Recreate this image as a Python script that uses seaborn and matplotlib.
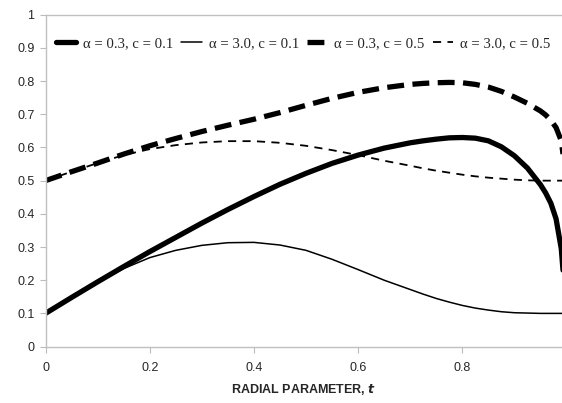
import numpy as np
import pandas as pd
import matplotlib
matplotlib.use("Agg")
import matplotlib.pyplot as plt
import seaborn as sns

sns.set_style("white")
plt.rcParams["font.family"] = ["Liberation Sans", "DejaVu Sans"]

# values
t = [0.0, 0.05, 0.1, 0.15, 0.2, 0.25, 0.3, 0.35, 0.4, 0.45, 0.5, 0.55, 0.6, 0.65,
     0.7, 0.725, 0.75, 0.775, 0.8, 0.825, 0.85, 0.875, 0.9, 0.925, 0.95, 0.96,
     0.97, 0.98, 0.99, 1.0]
a03_c01 = [0.100, 0.148, 0.195, 0.241, 0.286, 0.329, 0.372, 0.413, 0.452, 0.489, 0.522,
           0.552, 0.577, 0.598, 0.614, 0.620, 0.625, 0.629, 0.630, 0.628, 0.620, 0.602,
           0.575, 0.538, 0.488, 0.463, 0.432, 0.385, 0.295, 0.100]
a30_c01 = [0.100, 0.148, 0.193, 0.235, 0.268, 0.290, 0.305, 0.313, 0.314, 0.306, 0.290,
           0.263, 0.232, 0.200, 0.172, 0.158, 0.145, 0.134, 0.124, 0.116, 0.110, 0.105,
           0.102, 0.101, 0.100, 0.100, 0.100, 0.100, 0.100, 0.100]
a03_c05 = [0.500, 0.527, 0.553, 0.580, 0.605, 0.627, 0.648, 0.667, 0.685, 0.705, 0.727,
           0.748, 0.766, 0.780, 0.790, 0.793, 0.795, 0.796, 0.795, 0.790, 0.782, 0.769,
           0.752, 0.733, 0.710, 0.698, 0.682, 0.660, 0.620, 0.500]
a30_c05 = [0.500, 0.527, 0.553, 0.577, 0.595, 0.607, 0.615, 0.619, 0.619, 0.614, 0.605,
           0.592, 0.577, 0.560, 0.545, 0.537, 0.530, 0.524, 0.518, 0.513, 0.509, 0.506,
           0.503, 0.501, 0.500, 0.500, 0.500, 0.500, 0.500, 0.500]
labels = ["α = 0.3, c = 0.1", "α = 3.0, c = 0.1", "α = 0.3, c = 0.5", "α = 3.0, c = 0.5"]

df = pd.DataFrame({"t": t, labels[0]: a03_c01, labels[1]: a30_c01,
                   labels[2]: a03_c05, labels[3]: a30_c05})

fig = plt.figure(figsize=(5.62, 4.03), dpi=100)
ax = fig.add_axes([0.081, 0.14, 0.919, 0.8235])

styles = [
    dict(lw=3.8, ls="-"),
    dict(lw=1.1, ls="-"),
    dict(lw=3.8, ls=(0, (3.2, 1.6))),
    dict(lw=1.3, ls=(0, (4.5, 3.5))),
]
for lab, st in zip(labels, styles):
    sns.lineplot(data=df, x="t", y=lab, ax=ax, color="black", label=lab,
                 linewidth=st["lw"], linestyle=st["ls"])

ax.set_xlim(0, 0.9914)
ax.set_ylim(0, 1)
ax.set_xticks([0, 0.2, 0.4, 0.6, 0.8])
ax.set_xticklabels(["0", "0.2", "0.4", "0.6", "0.8"])
ax.set_yticks(np.arange(0, 1.01, 0.1))
ax.set_yticklabels(["0", "0.1", "0.2", "0.3", "0.4", "0.5", "0.6", "0.7", "0.8", "0.9", "1"])
ax.tick_params(axis="both", labelsize=9, length=4, color="#bbbbbb", direction="out",
               left=True, bottom=True, pad=4)
ax.tick_params(axis="x", pad=7)
ax.spines["right"].set_visible(False)
for s in ["left", "bottom", "top"]:
    ax.spines[s].set_color("#c0c0c0")
    ax.spines[s].set_linewidth(1.0)

ax.set_xlabel(r"RADIAL PARAMETER, $\boldsymbol{t}$", fontsize=9, fontweight="bold", labelpad=6)
ax.set_ylabel("")

leg = ax.legend(loc="center left", bbox_to_anchor=(0.02, 0.912), ncol=4, frameon=False,
                prop={"family": "Liberation Serif", "size": 10.6}, handlelength=1.4,
                handletextpad=0.45, columnspacing=0.55, borderaxespad=0, borderpad=0)

plt.savefig("out.png", dpi=100)
